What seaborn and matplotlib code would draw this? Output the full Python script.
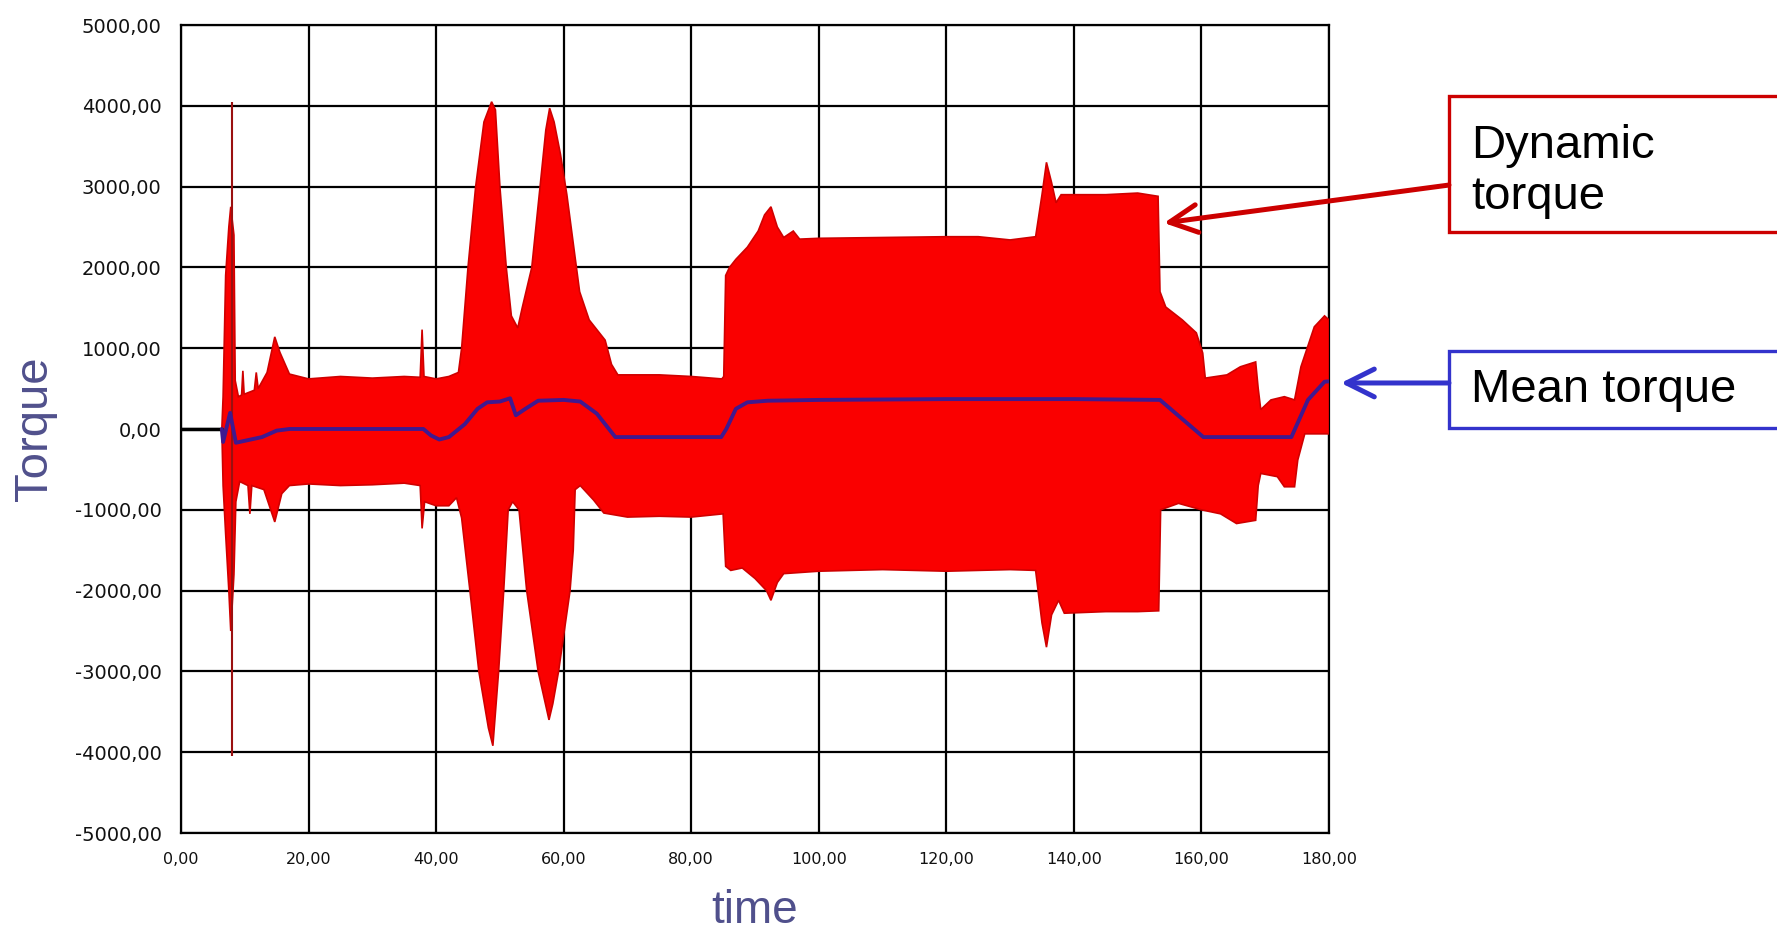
import numpy as np
import pandas as pd
import seaborn as sns
import matplotlib
matplotlib.use("Agg")
import matplotlib.pyplot as plt
from matplotlib.patches import Rectangle, FancyArrowPatch

# --- data ---
# upper envelope of the dynamic torque signal (time, torque)
upper_t = [6.4, 6.6, 7.0, 7.5, 7.8, 8.3, 8.5, 9.0, 9.5, 9.7, 9.9, 11.5, 11.8, 12.1, 13.5,
           14.7, 15.5, 17.0, 20, 25, 30, 35, 37.5, 37.8, 38.1, 40, 42, 43.5, 44.0, 45.0,
           46.2, 47.5, 48.7, 49.3, 50.0, 51.0, 51.8, 52.8, 53.5, 55.0, 56.3, 57.2, 57.8,
           58.5, 59.5, 60.5, 61.5, 62.5, 64.0, 65.7, 66.5, 67.5, 68.5, 75, 80, 84.8, 85.1, 85.4,
           86.0, 87.0, 88.8, 90.5, 91.5, 92.5, 93.5, 94.5, 96.0, 97.0, 100, 110, 120, 125,
           130, 134, 135.0, 135.7, 136.5, 137.2, 138.0, 145, 150, 153.2, 153.5, 154.4, 157,
           159.2, 160.2, 160.6, 164, 166.1, 168.5, 168.9, 169.3, 170.9, 173, 174.6, 175.6,
           177.7, 179.3, 180]
upper_v = [0, 400, 1900, 2500, 2750, 2400, 600, 400, 420, 720, 430, 480, 700, 500, 700,
           1140, 950, 680, 620, 650, 630, 650, 640, 1230, 650, 620, 650, 700, 1000, 2000,
           3000, 3800, 4050, 3950, 3000, 2000, 1400, 1250, 1500, 2000, 3000, 3700, 3970,
           3800, 3400, 2900, 2300, 1700, 1350, 1180, 1100, 800, 670, 670, 650, 620, 650, 1900,
           2000, 2100, 2250, 2450, 2650, 2750, 2500, 2370, 2450, 2350, 2360, 2370, 2380, 2380,
           2340, 2380, 2900, 3300, 3050, 2800, 2900, 2900, 2920, 2880, 1700, 1510, 1350,
           1190, 940, 630, 670, 770, 830, 500, 240, 360, 400, 360, 770,
           1265, 1400, 1350]

# lower envelope
lower_t = [6.4, 6.6, 7.0, 7.5, 7.8, 8.3, 8.6, 9.2, 10.5, 10.8, 11.1, 13.0, 14.7, 15.8,
           17.0, 20, 25, 30, 35, 37.5, 37.8, 38.2, 40, 42, 43.2, 44.0, 45.3, 46.7, 48.2,
           48.9, 49.8, 50.6, 51.3, 52.0, 53.0, 54.2, 56.0, 57.7, 58.3, 59.2, 61.0, 61.5, 61.8,
           62.6, 64.7, 66.3, 70, 75, 80, 85.0, 85.4, 86.2, 88.0, 90.0, 91.8, 92.5, 93.5,
           94.5, 100, 110, 120, 130, 134, 135.0, 135.7, 136.5, 137.6, 138.5, 145, 150,
           153.3, 153.6, 156.4, 160, 163, 165.5, 168.5, 168.9, 169.3, 171.9, 173, 174.6,
           175.1, 176.2, 180]
lower_v = [0, -700, -1300, -2000, -2500, -1800, -900, -650, -700, -1050, -700, -750, -1150, -800,
           -700, -680, -700, -690, -670, -700, -1230, -900, -950, -950, -850, -1100, -2000, -3000, -3700,
           -3920, -3000, -2000, -1000, -900, -1000, -2000, -3000, -3600, -3400, -3000, -2000, -1500, -750,
           -700, -880, -1040, -1090, -1080, -1090, -1050, -1700, -1750, -1720, -1850, -2000, -2120, -1900,
           -1790, -1760, -1740, -1760, -1740, -1750, -2400, -2700, -2300, -2120, -2280, -2260, -2260,
           -2250, -1000, -920, -1000, -1050, -1170, -1130, -700, -550, -590, -715, -715,
           -385, -60, -60]

# mean torque
mean_t = [6.4, 6.6, 7.7, 8.6, 12.7, 15, 17, 38, 39.2, 40.5, 42, 44.5, 46.5, 48.0, 50.0, 51.6,
          52.5, 54.0, 56.0, 60.0, 62.6, 65.2, 68.1, 84.7, 85.5, 87.0, 88.8, 92, 100, 120, 140,
          153.5, 160.3, 174.1, 176.7, 179.3, 180]
mean_v = [0, -160, 200, -170, -100, -20, 0, 0, -80, -130, -100, 60, 250, 330, 340, 380,
          170, 250, 350, 360, 340, 190, -100, -100, 0, 250, 330, 350, 360, 370, 370,
          360, -100, -100, 360, 585, 590]

# idle signal before start, and the single sharp spike
idle_t = [0, 6.4]
idle_v = [0, 0]
spike_t = 8.0
spike_lo, spike_hi = -4050, 4050

x_ticks = [0, 20, 40, 60, 80, 100, 120, 140, 160, 180]
x_labels = ["0,00", "20,00", "40,00", "60,00", "80,00", "100,00", "120,00", "140,00", "160,00", "180,00"]
y_ticks = [-5000, -4000, -3000, -2000, -1000, 0, 1000, 2000, 3000, 4000, 5000]
y_labels = ["-5000,00", "-4000,00", "-3000,00", "-2000,00", "-1000,00", "0,00",
            "1000,00", "2000,00", "3000,00", "4000,00", "5000,00"]

# --- style ---
sns.set_style("white")
plt.rcParams["font.family"] = ["DejaVu Sans"]
plt.rcParams["text.color"] = "black"

fig = plt.figure(figsize=(17.77, 9.35), dpi=100)
ax = fig.add_axes([0.10186, 0.10909, 0.64603, 0.86417])

# dynamic torque band
up = pd.Series(upper_v, index=upper_t)
lo = pd.Series(lower_v, index=lower_t)
ax.fill(np.concatenate([up.index.values, lo.index.values[::-1]]),
        np.concatenate([up.values, lo.values[::-1]]),
        facecolor="#fa0000", edgecolor="#d00000", linewidth=1.2, zorder=3)
ax.vlines(spike_t, spike_lo, spike_hi, color="#9a1010", linewidth=1.5, zorder=4)

# idle + mean
ax.plot(idle_t, idle_v, color="black", linewidth=2.5, zorder=5)
mean_df = pd.DataFrame({"time": mean_t, "torque": mean_v})
sns.lineplot(data=mean_df, x="time", y="torque", ax=ax, estimator=None, sort=False,
             color="#40198f", linewidth=2.8, zorder=5)

ax.set_xlim(0, 180)
ax.set_ylim(-5000, 5000)
ax.set_xticks(x_ticks)
ax.set_xticklabels(x_labels, fontsize=11.5, color="#111111")
ax.set_yticks(y_ticks)
ax.set_yticklabels(y_labels, fontsize=14, color="#111111")
ax.tick_params(axis="both", length=0)
ax.tick_params(axis="y", pad=14)
ax.tick_params(axis="x", pad=14)
ax.grid(True, color="black", linewidth=1.6, zorder=1)
ax.set_axisbelow(True)
for s in ax.spines.values():
    s.set_color("black")
    s.set_linewidth(1.6)

ax.set_xlabel("time", fontsize=33, color="#50508c", family="Liberation Sans")
ax.set_ylabel("Torque", fontsize=34, color="#50508c", family="Liberation Sans")
ax.xaxis.set_label_coords(0.5, -0.069)
ax.yaxis.set_label_coords(-0.108, 0.5)

# --- callout boxes ---
fig.add_artist(Rectangle((0.8154, 0.7519), 0.3, 0.1455, transform=fig.transFigure,
                         facecolor="white", edgecolor="#cc0000", linewidth=2.4))
fig.text(0.8278, 0.817, "Dynamic\ntorque", fontsize=34, family="Liberation Sans",
         color="black", va="center", ha="left", linespacing=1.2)
fig.add_artist(Rectangle((0.8154, 0.5422), 0.3, 0.0824, transform=fig.transFigure,
                         facecolor="white", edgecolor="#3333cc", linewidth=2.4))
fig.text(0.8278, 0.583, "Mean torque", fontsize=34, family="Liberation Sans",
         color="black", va="center", ha="left")

fig.add_artist(FancyArrowPatch((0.8154, 0.8021), (0.6550, 0.7615), transform=fig.transFigure,
                               arrowstyle="->,head_length=1.0,head_width=0.5", mutation_scale=20,
                               color="#cc0000", linewidth=3.6, shrinkA=0, shrinkB=0))
fig.add_artist(FancyArrowPatch((0.8154, 0.5904), (0.7546, 0.5904), transform=fig.transFigure,
                               arrowstyle="->,head_length=1.0,head_width=0.5", mutation_scale=20,
                               color="#3333cc", linewidth=3.6, shrinkA=0, shrinkB=0))

fig.savefig("out.png", dpi=100, facecolor="white")
